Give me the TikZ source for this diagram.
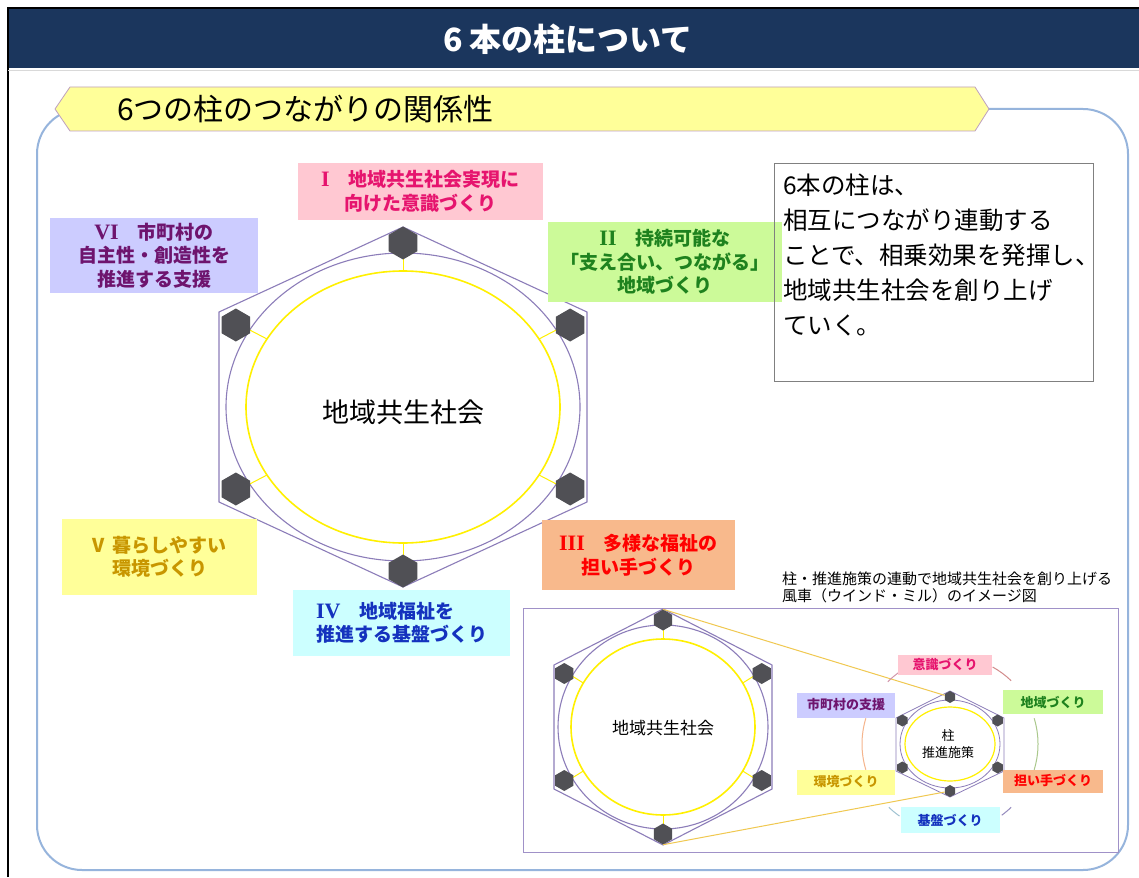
\documentclass[tikz,border=0pt]{standalone}
\usepackage{fontspec}
\setmainfont{Noto Sans CJK JP}
\newfontfamily\romanfont{Liberation Serif}
\usepackage{xcolor}
\usepackage{tikz}
\usetikzlibrary{positioning,calc,shapes.geometric}
\definecolor{titlenavy}{RGB}{27, 54, 93}
\definecolor{banneryellow}{RGB}{255, 255, 153}
\definecolor{bannerrim}{RGB}{190, 160, 190}
\definecolor{frameblue}{RGB}{150, 180, 220}
\definecolor{ringpurple}{RGB}{140, 125, 185}
\definecolor{coreyellow}{RGB}{255, 240, 0}
\definecolor{boltgray}{RGB}{80, 80, 85}
\definecolor{goldline}{RGB}{240, 200, 80}
\definecolor{insetpurple}{RGB}{160, 145, 200}
\definecolor{boxgray}{RGB}{128, 128, 128}
\definecolor{pinkbox}{RGB}{255, 200, 210}
\definecolor{pinktext}{RGB}{230, 20, 110}
\definecolor{greenbox}{RGB}{204, 250, 153}
\definecolor{greentext}{RGB}{30, 130, 30}
\definecolor{lavbox}{RGB}{204, 204, 255}
\definecolor{lavtext}{RGB}{110, 20, 110}
\definecolor{yellowbox}{RGB}{255, 255, 153}
\definecolor{yellowtext}{RGB}{200, 150, 0}
\definecolor{orangebox}{RGB}{248, 185, 140}
\definecolor{orangetext}{RGB}{255, 0, 0}
\definecolor{cyanbox}{RGB}{204, 255, 255}
\definecolor{cyantext}{RGB}{20, 50, 190}

\begin{document}
\begin{tikzpicture}[
    x=1pt, y=-1pt,
    pillar/.style={rectangle, align=center, inner sep=0pt, font=\bfseries\fontsize{19}{23.5}\selectfont},
    numeral/.style={},
    minipillar/.style={rectangle, align=center, inner sep=0pt, font=\bfseries\fontsize{13}{15}\selectfont},
    hexbolt/.style={regular polygon, regular polygon sides=6, shape border rotate=30, fill=boltgray, draw=none, inner sep=0pt},
    ring/.style={draw=ringpurple, line width=1.1pt},
    core/.style={draw=coreyellow, line width=1.6pt},
    spoke/.style={draw=coreyellow, line width=1pt},
    turn/.style={line width=1pt}
  ]

\useasboundingbox (0,0) rectangle (1139,877);
\fill[white] (0,0) rectangle (1139,877);

% page frame and title
\node[fill=titlenavy, minimum width=1131pt, minimum height=60pt, anchor=north west, inner sep=0pt] (titlebar) at (8,8) {};
\draw[black, line width=1.5pt] (8,877) -- (8,8) -- (1139,8);
\draw[gray!30, line width=1pt] (8,71) -- (1139,71);
\node[text=white, font=\bfseries\fontsize{32}{36}\selectfont] (title) at (568,39) {6 本の柱について};

% rounded panel and banner
\draw[frameblue, line width=2pt, rounded corners=45pt] (37,109) rectangle (1128,870);
\draw[fill=banneryellow, draw=bannerrim, line width=0.8pt] (55,109) -- (70,87) -- (975,87) -- (989,109) -- (975,131) -- (70,131) -- cycle;
\node[anchor=west, inner sep=0pt, font=\fontsize{30}{34}\selectfont] (bannertext) at (117,109) {6つの柱のつながりの関係性};

% big windmill
\coordinate (hub) at (403,407);
\draw[ring] (403,227) -- (587,312) -- (587,502) -- (403,587) -- (219,502) -- (219,312) -- cycle;
\draw[ring] (hub) ellipse [x radius=177, y radius=154];
\draw[core] (hub) ellipse [x radius=157, y radius=136];
\foreach \a [count=\i] in {-90,-30,30,90,150,210} {
  \draw[spoke] ($(hub)+(\a:157 and 136)$) -- ($(hub)+(\a:177 and 154)$);
  \node[hexbolt, minimum size=33pt] (bolt\i) at ($(hub)+(\a:193 and 164)$) {};
}
\node[font=\fontsize{27}{32}\selectfont] (society) at (403,412) {地域共生社会};

% six pillars
\node[pillar, fill=pinkbox, text=pinktext, minimum width=245pt, minimum height=57pt] (pillarI) at (420.5,191.5) {{\romanfont\fontsize{22}{23.5}\selectfont I}　地域共生社会実現に\\向けた意識づくり};
\node[pillar, fill=greenbox, text=greentext, minimum width=234pt, minimum height=80pt] (pillarII) at (665,262) {{\romanfont\fontsize{22}{23.5}\selectfont II}　持続可能な\\「支え合い、つながる」\\地域づくり};
\node[pillar, fill=orangebox, text=orangetext, minimum width=193pt, minimum height=70pt] (pillarIII) at (638.5,555) {{\romanfont\fontsize{22}{23.5}\selectfont III}　多様な福祉の\\担い手づくり};
\node[pillar, align=left, fill=cyanbox, text=cyantext, minimum width=217pt, minimum height=66pt] (pillarIV) at (401.5,623) {{\romanfont\fontsize{22}{23.5}\selectfont IV}　地域福祉を\\推進する基盤づくり};
\node[pillar, fill=yellowbox, text=yellowtext, minimum width=195pt, minimum height=76pt] (pillarV) at (159.5,557) {V\hspace{8pt}暮らしやすい\\環境づくり};
\node[pillar, fill=lavbox, text=lavtext, minimum width=208pt, minimum height=75pt] (pillarVI) at (154,255.5) {{\romanfont\fontsize{22}{23.5}\selectfont VI}　市町村の\\自主性・創造性を\\推進する支援};

% note box
\node[draw=boxgray, line width=1pt, minimum width=319pt, minimum height=218pt, anchor=north west, inner sep=0pt] (notebox) at (774,163) {};
\node[below right=11pt and 9pt of notebox.north west, align=left, inner sep=0pt, font=\fontsize{24.5}{35}\selectfont] (notetext) {6本の柱は、\\相互につながり連動する\\ことで、相乗効果を発揮し、\\地域共生社会を創り上げ\\ていく。};

% inset
\node[draw=insetpurple, line width=1pt, minimum width=595pt, minimum height=244pt, anchor=north west, inner sep=0pt] (inset) at (523,608) {};
\node[anchor=north west, align=left, inner sep=0pt, font=\fontsize{15}{17}\selectfont] (caption) at (782,572) {柱・推進施策の連動で地域共生社会を創り上げる\\風車（ウインド・ミル）のイメージ図};

\coordinate (minihub) at (663,727);
\draw[ring] (663,609) -- (772,665) -- (772,789) -- (663,845) -- (554,789) -- (554,665) -- cycle;
\draw[ring] (minihub) ellipse [x radius=105, y radius=102];
\draw[core] (minihub) ellipse [x radius=92, y radius=88];
\foreach \a [count=\i] in {-90,-30,30,90,150,210} {
  \draw[spoke] ($(minihub)+(\a:92 and 88)$) -- ($(minihub)+(\a:105 and 102)$);
  \node[hexbolt, minimum size=21pt] (ibolt\i) at ($(minihub)+(\a:114 and 107)$) {};
}
\node[font=\fontsize{17}{20}\selectfont] (minisociety) at (663,728) {地域共生社会};

\coordinate (windhub) at (950,744);
\draw[ring, line width=0.8pt] (950,691) -- (1004,718) -- (1004,771) -- (950,797) -- (896,771) -- (896,718) -- cycle;
\draw[ring, line width=0.8pt] (windhub) ellipse [x radius=50, y radius=44];
\draw[core, line width=1.2pt] (windhub) ellipse [x radius=45, y radius=37];
\foreach \a [count=\i] in {-90,-30,30,90,150,210} {
  \node[hexbolt, minimum size=12pt] (wbolt\i) at ($(windhub)+(\a:55 and 47)$) {};
}
\node[align=center, font=\fontsize{13}{17}\selectfont] (windtext) at (948,744) {柱\\推進施策};

\draw[goldline, line width=1pt] (ibolt1.north) -- (wbolt1);
\draw[goldline, line width=1pt] (ibolt4.south) -- (wbolt4);

% turning arcs
\draw[turn, draw={rgb,255:red,210;green,140;blue,140}] ($(windhub)+(-61:88)$) arc[start angle=-61, end angle=-46, radius=88];
\draw[turn, draw={rgb,255:red,170;green,200;blue,140}] ($(windhub)+(-17:88)$) arc[start angle=-17, end angle=17, radius=88];
\draw[turn, draw={rgb,255:red,150;green,140;blue,190}] ($(windhub)+(46:88)$) arc[start angle=46, end angle=54, radius=88];
\draw[turn, draw={rgb,255:red,160;green,195;blue,210}] ($(windhub)+(125:88)$) arc[start angle=125, end angle=134, radius=88];
\draw[turn, draw={rgb,255:red,245;green,180;blue,140}] ($(windhub)+(163:88)$) arc[start angle=163, end angle=197, radius=88];
\draw[turn, draw={rgb,255:red,210;green,150;blue,170}] ($(windhub)+(-135:88)$) arc[start angle=-135, end angle=-125, radius=88];

\node[minipillar, fill=pinkbox, text=pinktext, minimum width=94pt, minimum height=20pt] (miniI) at (945,665) {意識づくり};
\node[minipillar, fill=greenbox, text=greentext, minimum width=100pt, minimum height=24pt] (miniII) at (1053,702) {地域づくり};
\node[minipillar, fill=orangebox, text=orangetext, minimum width=100pt, minimum height=23pt] (miniIII) at (1053,781) {担い手づくり};
\node[minipillar, fill=cyanbox, text=cyantext, minimum width=99pt, minimum height=26pt] (miniIV) at (950,820) {基盤づくり};
\node[minipillar, fill=yellowbox, text=yellowtext, minimum width=98pt, minimum height=25pt] (miniV) at (846,782) {環境づくり};
\node[minipillar, fill=lavbox, text=lavtext, minimum width=98pt, minimum height=25pt] (miniVI) at (846,705) {市町村の支援};

\end{tikzpicture}
\end{document}
